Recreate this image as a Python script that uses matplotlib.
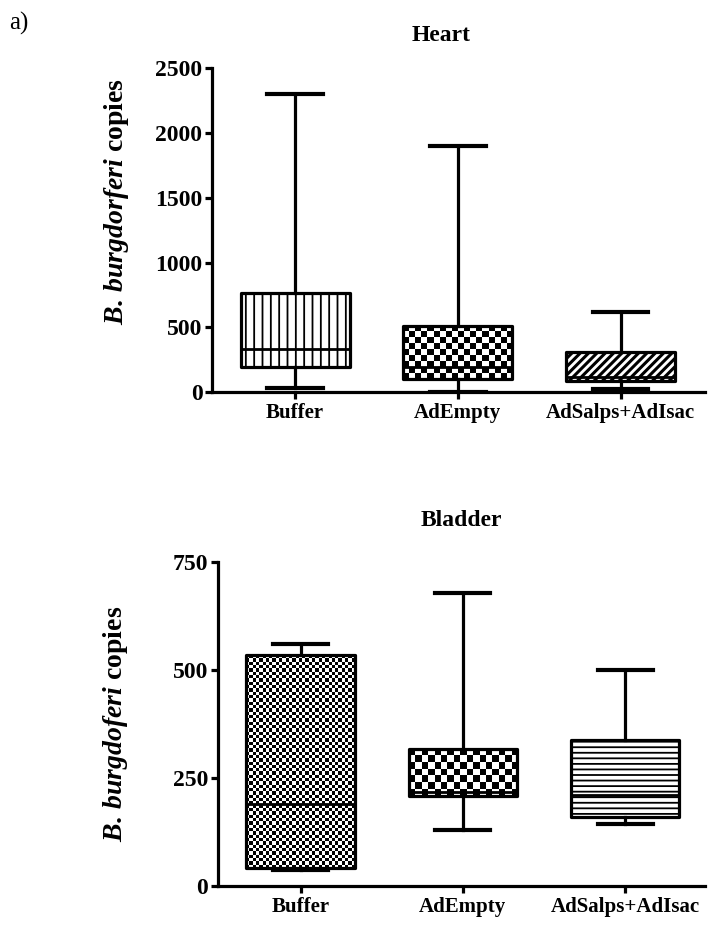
import numpy as np
import matplotlib
matplotlib.use('Agg')
import matplotlib.pyplot as plt

plt.rcParams['font.family'] = ['Liberation Serif', 'DejaVu Serif']
plt.rcParams['font.weight'] = 'bold'
plt.rcParams['mathtext.fontset'] = 'custom'
plt.rcParams['mathtext.it'] = 'Liberation Serif:italic:bold'
plt.rcParams['mathtext.rm'] = 'Liberation Serif:bold'
plt.rcParams['hatch.linewidth'] = 1.3

groups = ['Buffer', 'AdEmpty', 'AdSalps+AdIsac']

# Heart (box/whisker summary)
heart_min = [30, 5, 25]
heart_q1 = [195, 100, 90]
heart_med = [330, 195, 115]
heart_q3 = [765, 510, 308]
heart_max = [2300, 1900, 620]

# Bladder
bladder_min = [37, 130, 143]
bladder_q1 = [42, 208, 160]
bladder_med = [190, 218, 212]
bladder_q3 = [535, 318, 338]
bladder_max = [560, 680, 500]

LW = 2.3


def stats(lo, q1, med, q3, hi):
    return [dict(whislo=a, q1=b, med=c, q3=d, whishi=e, fliers=[])
            for a, b, c, d, e in zip(lo, q1, med, q3, hi)]


def checker(ax, box, cell):
    v = box.get_path().vertices
    x0, x1 = v[:, 0].min(), v[:, 0].max()
    y0, y1 = v[:, 1].min(), v[:, 1].max()
    (px0, py0), (px1, py1) = ax.transData.transform([(x0, y0), (x1, y1)])
    nx = max(1, int(round((px1 - px0) / cell)))
    ny = max(1, int(round((py1 - py0) / cell)))
    grid = np.indices((ny, nx)).sum(axis=0) % 2
    im = ax.imshow(grid, cmap='gray', extent=(x0, x1, y0, y1), aspect='auto',
                   interpolation='nearest', origin='lower', zorder=1.5)
    im.set_clip_path(box)
    box.set_facecolor('none')


def panel(ax, st, title, ylabel, ylim, yticks, xlim, styles, titlepad, title_x, label_xy):
    ax.set_xlim(*xlim)
    ax.set_ylim(*ylim)
    bp = ax.bxp(st, positions=range(len(st)), widths=0.67, capwidths=0.34,
                patch_artist=True, showfliers=False,
                boxprops=dict(linewidth=LW, edgecolor='black', facecolor='white', joinstyle='round'),
                whiskerprops=dict(linewidth=LW, color='black'),
                capprops=dict(linewidth=3.0, color='black'),
                medianprops=dict(linewidth=2.0, color='black'))
    ax.set_xlim(*xlim)
    ax.set_ylim(*ylim)
    for box, (kind, val) in zip(bp['boxes'], styles):
        if kind == 'hatch':
            box.set_hatch(val)
            if val.startswith('/') and hasattr(box, 'set_hatch_linewidth'):
                box.set_hatch_linewidth(2.2)
        else:
            checker(ax, box, val)
    for m in bp['medians']:
        m.set_zorder(3)
    ax.set_xticks(range(len(groups)))
    ax.set_xticklabels(groups, fontsize=15)
    ax.set_yticks(yticks)
    ax.tick_params(axis='y', labelsize=17, length=5, width=LW, direction='out', pad=2)
    ax.tick_params(axis='x', length=5, width=LW, direction='out', pad=3)
    for s in ['top', 'right']:
        ax.spines[s].set_visible(False)
    for s in ['left', 'bottom']:
        ax.spines[s].set_linewidth(LW)
    ax.set_title(title, fontsize=17, fontweight='bold', pad=titlepad, x=title_x)
    ax.set_ylabel(ylabel, fontsize=20, fontweight='bold')
    ax.yaxis.set_label_coords(*label_xy)


fig = plt.figure(figsize=(7.19, 9.25), dpi=100)

ax1 = fig.add_axes([0.295, 0.576, 0.686, 0.350])
panel(ax1, stats(heart_min, heart_q1, heart_med, heart_q3, heart_max),
      'Heart', r'$\mathit{B.\,burgdorferi}$ copies', (0, 2500),
      [0, 500, 1000, 1500, 2000, 2500], (-0.51, 2.52),
      [('hatch', '||'), ('checker', 6.0), ('hatch', '////')], 20, 0.465, (-0.165, 0.59))

ax2 = fig.add_axes([0.303, 0.042, 0.677, 0.350])
panel(ax2, stats(bladder_min, bladder_q1, bladder_med, bladder_q3, bladder_max),
      'Bladder', r'$\mathit{B.\,burgdoferi}$ copies', (0, 750),
      [0, 250, 500, 750], (-0.51, 2.49),
      [('checker', 3.3), ('checker', 6.5), ('hatch', '---')], 26, 0.5, (-0.18, 0.50))

fig.text(0.013, 0.975, 'a)', fontsize=18, fontweight='normal', va='center', ha='left')

fig.savefig('out.png', dpi=100)
